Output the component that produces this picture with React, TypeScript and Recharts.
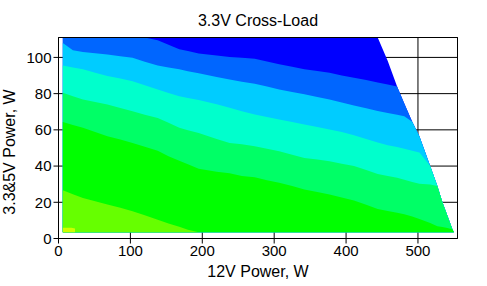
import {
  ComposedChart,
  Area,
  XAxis,
  YAxis,
  CartesianGrid,
  ReferenceLine,
} from "recharts";

const FONT = '"Liberation Sans", Arial, sans-serif';

const LOAD_12V = [
  6, 20, 34, 51, 68, 86, 103, 120, 138, 153,
  168, 180, 195, 220, 238, 255, 273, 290, 307, 325,
  342, 360, 377, 394, 411, 428, 444, 458, 471, 481,
  492, 502, 517, 527, 534, 541, 548, 550,
];

// highest 3.3&5V load tested at each 12V load (right diagonal edge)
const MAX_LOAD = [
  111, 111, 111, 111, 111, 111, 111, 111, 111, 111,
  111, 111, 111, 111, 111, 111, 111, 111, 111, 111,
  111, 111, 111, 111, 111, 111, 111, 98, 84, 74.5,
  64.5, 56.5, 40, 29, 20, 12.5, 5, 3.5,
];

// upper edge of each deviation band
const AZURE_TOP = [
  111, 111, 111, 111, 111, 111, 111, 111, 109.5, 107,
  104.5, 103.5, 102.2, 101, 100.3, 99.8, 99.2, 97.7, 96.2, 94.8,
  93.5, 92.5, 91.5, 90, 88.8, 87.5, 86.1, 85, 84, 83,
  82, 81, 80, 79, 78, 77, 76, 76,
];
const CYAN_TOP = [
  108, 104, 103, 102.3, 101.6, 100.7, 99.8, 97.6, 95.5, 94.4,
  93.4, 92.4, 91.2, 89.2, 87.8, 86.6, 85.5, 83.9, 82.3, 80.9,
  79.6, 78.2, 76.8, 75.1, 73.5, 71.9, 70.4, 69.3, 68.4, 67.5,
  66.7, 66, 65, 64, 63.5, 63, 62.5, 62.5,
];
const AQUA_TOP = [
  95.6, 94.5, 93.4, 91.5, 89.7, 88.3, 86.9, 84.6, 82.3, 80.4,
  78.6, 77.6, 76.5, 74.1, 72.2, 70.3, 68.5, 67.1, 65.7, 64.3,
  63, 61.6, 60.2, 58.8, 57, 55, 53, 51.5, 50.5, 49.5,
  48.5, 47.5, 46.5, 45.5, 45, 44.5, 44, 44,
];
const SPRING_TOP = [
  80.5, 78.6, 76.8, 75.4, 74, 72.1, 70.3, 68.4, 66.6, 63.9,
  61.1, 59.8, 58.2, 55, 52.8, 52, 51, 49.6, 48.2, 46.3,
  44.5, 43.6, 42.7, 41.3, 40, 37.8, 35.6, 34.5, 33.5, 32.5,
  31.2, 30.3, 29.8, 29.3, 29, 28.5, 28, 28,
];
const GREEN_TOP = [
  64.3, 62.7, 61.1, 58.8, 56.5, 54.7, 52.8, 50.6, 48.5, 45.4,
  43, 41, 38.5, 36.8, 36, 34.5, 33.8, 32.2, 30.8, 29,
  27.1, 25.7, 24.3, 22.6, 21, 18.6, 16.3, 15.2, 14.2, 13.4,
  12.2, 10.8, 8.5, 6.8, 6.3, 5.8, 5, 4.5,
];

// the two small bands in the lower left corner
const LIME_X = [6, 20, 34, 51, 68, 86, 103, 120, 138, 153, 168, 180, 195];
const LIME_TOP = [26.7, 24.5, 22.4, 20.6, 18.8, 17, 15, 12.8, 10.3, 8.3, 6.5, 4.8, 3.5];
const YELLOW_X = [6, 18, 23];
const YELLOW_TOP = [6, 6, 5.5];

const LOW_W = 3.5; // lowest 3.3&5V load tested

const X_TICKS = [0, 100, 200, 300, 400, 500];
const Y_TICKS = [0, 20, 40, 60, 80, 100];

const BANDS = [
  { key: "blue", color: "#0000ff", top: MAX_LOAD },
  { key: "azure", color: "#0066ff", top: AZURE_TOP },
  { key: "cyan", color: "#00ccff", top: CYAN_TOP },
  { key: "aqua", color: "#00ffcc", top: AQUA_TOP },
  { key: "spring", color: "#00ff66", top: SPRING_TOP },
  { key: "green", color: "#00ff00", top: GREEN_TOP },
];

const rows = LOAD_12V.map((x, i) => {
  const row: Record<string, number | number[]> = { x };
  BANDS.forEach((b) => {
    row[b.key] = [LOW_W, Math.min(b.top[i], MAX_LOAD[i])];
  });
  return row;
});
const limeRows = LIME_X.map((x, i) => ({ x, lime: [LOW_W, LIME_TOP[i]] }));
const yellowRows = YELLOW_X.map((x, i) => ({ x, yellow: [LOW_W, YELLOW_TOP[i]] }));

const tickStyle = { fill: "#000", fontSize: 15, fontFamily: FONT };

export default function App() {
  return (
    <div style={{ position: "absolute", left: 0, top: 0, width: 487, height: 286, background: "#fff" }}>
      <div
        style={{
          position: "absolute",
          left: 58.5,
          width: 399,
          top: 13,
          textAlign: "center",
          fontFamily: FONT,
          fontSize: 16,
          lineHeight: "16px",
          color: "#000",
        }}
      >
        3.3V Cross-Load
      </div>
      <ComposedChart
        width={487}
        height={286}
        data={rows}
        margin={{ top: 37.5, right: 29.5, bottom: 0, left: 0 }}
      >
        <CartesianGrid stroke="#000" strokeWidth={1} />
        <XAxis
          type="number"
          dataKey="x"
          domain={[0, 555]}
          ticks={X_TICKS}
          allowDataOverflow
          height={47.5}
          tickSize={5}
          tick={tickStyle}
          tickLine={{ stroke: "#000" }}
          axisLine={{ stroke: "#000" }}
          label={{
            content: () => (
              <text x={258} y={277} textAnchor="middle" fontSize={16} fontFamily={FONT} fill="#000">
                12V Power, W
              </text>
            ),
          }}
        />
        <YAxis
          type="number"
          domain={[0, 111]}
          ticks={Y_TICKS}
          allowDataOverflow
          width={58.5}
          tickSize={5}
          tick={tickStyle}
          tickLine={{ stroke: "#000" }}
          axisLine={{ stroke: "#000" }}
          label={{
            content: () => (
              <text
                x={14.5}
                y={152}
                transform="rotate(-90 14.5 152)"
                textAnchor="middle"
                fontSize={16}
                fontFamily={FONT}
                fill="#000"
              >
                {"3.3&5V Power, W"}
              </text>
            ),
          }}
        />
        {BANDS.map((b) => (
          <Area
            key={b.key}
            dataKey={b.key}
            type="linear"
            stroke="none"
            fill={b.color}
            fillOpacity={1}
            isAnimationActive={false}
          />
        ))}
        <Area
          data={limeRows}
          dataKey="lime"
          type="linear"
          stroke="none"
          fill="#66ff00"
          fillOpacity={1}
          isAnimationActive={false}
        />
        <Area
          data={yellowRows}
          dataKey="yellow"
          type="linear"
          stroke="none"
          fill="#ccff00"
          fillOpacity={1}
          isAnimationActive={false}
        />
        <ReferenceLine y={111} stroke="#000" />
        <ReferenceLine x={555} stroke="#000" />
      </ComposedChart>
    </div>
  );
}
